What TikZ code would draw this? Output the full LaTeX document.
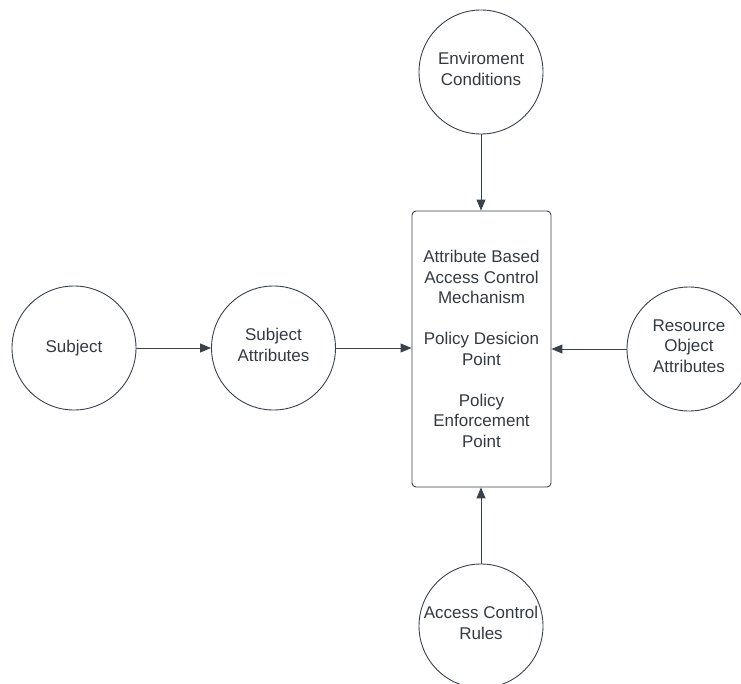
\documentclass[tikz,border=0pt]{standalone}
\usepackage{fontspec}
\setmainfont{Liberation Sans}
\usetikzlibrary{arrows.meta}
\definecolor{linegray}{HTML}{3A414A}
\definecolor{textgray}{HTML}{343A41}
\begin{document}
\begin{tikzpicture}[x=1pt,y=-1pt,
  every node/.style={text=textgray,font=\fontsize{17}{20.5}\selectfont,align=center},
  every label/.style={text=textgray,font=\fontsize{17}{20.5}\selectfont,align=center,yshift=3pt},
  entity/.style={circle,draw=linegray,line width=0.9pt,minimum size=124pt,inner sep=0pt},
  mechbox/.style={rectangle,draw=linegray,line width=0.9pt,rounded corners=4pt,
    minimum width=139pt,minimum height=276pt,inner sep=0pt},
  flow/.style={draw=linegray,line width=1pt,-{Triangle[length=11pt,width=9pt]}}]
\useasboundingbox (0,0) rectangle (741,684);

% attribute sources (multi-line text set as centred labels, lifted slightly)
\node[entity] (subj) at (74,348) {Subject};
\node[entity,label=center:{Subject\\Attributes}] (sattr) at (273.5,348) {};
\node[entity,label=center:{Enviroment\\Conditions}] (env) at (481,72) {};
\node[entity,label=center:{Resource\\Object\\Attributes}] (res) at (689,349) {};
\node[entity,label=center:{Access Control\\Rules}] (rules) at (481,626) {};

% decision / enforcement mechanism
\node[mechbox] (abac) at (481.5,349) {Attribute Based\\Access Control\\Mechanism\\[20.5pt]Policy Desicion\\Point\\[20.5pt]Policy\\Enforcement\\Point};

% connectors
\draw[flow] (subj.east) -- (sattr.west);
\draw[flow] (sattr.east) -- (abac.west |- sattr.east);
\draw[flow] (res.west) -- (abac.east |- res.west);
\draw[flow] (env.south) -- (abac.north -| env.south);
\draw[flow] (rules.north) -- (abac.south -| rules.north);
\end{tikzpicture}
\end{document}
